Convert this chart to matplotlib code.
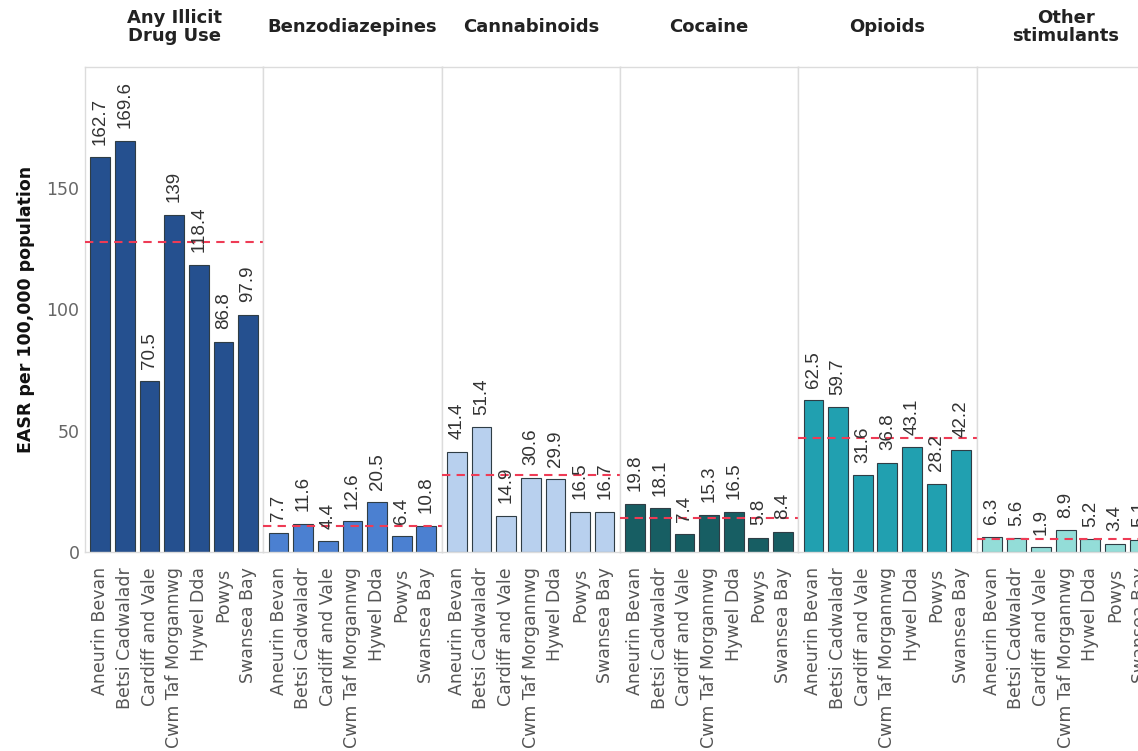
import matplotlib.pyplot as plt

boards = ["Aneurin Bevan", "Betsi Cadwaladr", "Cardiff and Vale", "Cwm Taf Morgannwg",
          "Hywel Dda", "Powys", "Swansea Bay"]
drugs = ["Any Illicit\nDrug Use", "Benzodiazepines", "Cannabinoids", "Cocaine",
         "Opioids", "Other\nstimulants"]

any_illicit = [162.7, 169.6, 70.5, 139, 118.4, 86.8, 97.9]
benzodiazepines = [7.7, 11.6, 4.4, 12.6, 20.5, 6.4, 10.8]
cannabinoids = [41.4, 51.4, 14.9, 30.6, 29.9, 16.5, 16.7]
cocaine = [19.8, 18.1, 7.4, 15.3, 16.5, 5.8, 8.4]
opioids = [62.5, 59.7, 31.6, 36.8, 43.1, 28.2, 42.2]
other_stimulants = [6.3, 5.6, 1.9, 8.9, 5.2, 3.4, 5.1]

# Wales rate shown as the dashed line in each panel
wales_rate = [127.7, 10.8, 31.6, 14.1, 46.9, 5.4]

series = [any_illicit, benzodiazepines, cannabinoids, cocaine, opioids, other_stimulants]
colors = ["#25508f", "#4b80d1", "#b8d0ee", "#175e63", "#21a0b0", "#93ddd8"]

W, H = 1138, 751
fig = plt.figure(figsize=(W / 100, H / 100), dpi=100)

left_px, top_px, bottom_px, panel_px = 85, 67, 552, 178.3
grid_col = "#dcdcdc"

for i, (name, vals, col, avg) in enumerate(zip(drugs, series, colors, wales_rate)):
    x0 = left_px + i * panel_px
    ax = fig.add_axes([x0 / W, 1 - bottom_px / H, panel_px / W, (bottom_px - top_px) / H])
    x = list(range(len(boards)))
    ax.bar(x, vals, width=0.8, color=col, edgecolor="#2f3d45", linewidth=0.8)
    ax.axhline(avg, color="#ee3b55", linestyle=(0, (4, 3)), linewidth=1.5, zorder=3)
    for xi, v in zip(x, vals):
        ax.annotate(f"{v:g}", (xi, v), xytext=(0, 9), textcoords="offset points",
                    rotation=90, ha="center", va="bottom", fontsize=13.5,
                    family="Liberation Sans", color="#333333")
    ax.set_xlim(-0.62, 6.62)
    ax.set_ylim(0, 200)
    ax.set_xticks(x)
    ax.set_xticklabels(boards, rotation=90, fontsize=12.5, color="#555555")
    ax.tick_params(length=0, pad=11)
    if i == 0:
        ax.set_yticks([0, 50, 100, 150])
        ax.tick_params(axis="y", labelsize=12.5, labelcolor="#666666", pad=4)
        ax.set_ylabel("EASR per 100,000 population", fontsize=12.5, fontweight="bold",
                      color="#111111", labelpad=8)
    else:
        ax.set_yticks([])
    for side in ["top", "left", "right", "bottom"]:
        ax.spines[side].set_color(grid_col)
        ax.spines[side].set_linewidth(1.0)
    ax.text(0.5, (bottom_px - 27) / (bottom_px - top_px), name, transform=ax.transAxes,
            ha="center", va="center", fontsize=13, fontweight="bold", color="#222222",
            linespacing=1.0)

fig.savefig("out.png", dpi=100)
